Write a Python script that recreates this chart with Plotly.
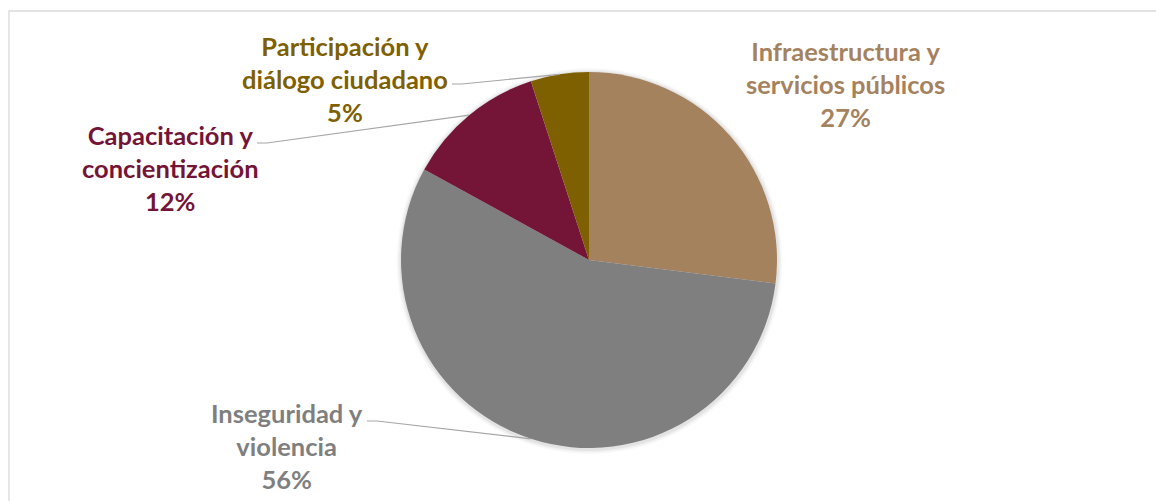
import math
import plotly.graph_objects as go

labels = ["Infraestructura y<br>servicios públicos", "Inseguridad y<br>violencia",
          "Capacitación y<br>concientización", "Participación y<br>diálogo ciudadano"]
values = [27, 56, 12, 5]
colors = ["#A5825E", "#7F7F7F", "#741538", "#7F6000"]

W, H = 1156, 501
cx, cy, r = 589, 260, 188  # pie centre/radius in pixels


def dom(cxp, cyp, rp):
    return dict(x=[(cxp - rp) / W, (cxp + rp) / W], y=[1 - (cyp + rp) / H, 1 - (cyp - rp) / H])


fig = go.Figure()
# soft shadow behind the pie
for k, a in [(5, 0.025), (3.5, 0.035), (2, 0.05)]:
    fig.add_trace(go.Pie(values=[1], marker=dict(colors=[f"rgba(0,0,0,{a})"], line=dict(width=0)),
                         textinfo="none", hoverinfo="skip", showlegend=False, sort=False,
                         domain=dom(cx + 0.5, cy + 1, r + k)))

fig.add_trace(go.Pie(
    labels=labels, values=values, sort=False, direction="clockwise", rotation=0,
    marker=dict(colors=colors, line=dict(width=0)),
    textinfo="none", hoverinfo="label+percent", showlegend=False,
    domain=dom(cx, cy, r),
))

# label block centres (pixels) and leader-line start (pixels, or None)
label_pos = [(845, 84), (287, 446), (170, 168), (345, 79)]
leader_start = [None, (367, 421), (257, 143), (452, 84)]

total = sum(values)
cum = 0
shapes = []
annotations = []
for lab, v, col, (lx, ly), ls in zip(labels, values, colors, label_pos, leader_start):
    mid = (cum + v / 2) / total * 2 * math.pi
    cum += v
    px = cx + r * math.sin(mid)
    py = cy - r * math.cos(mid)
    pct = round(v / total * 100)
    annotations.append(dict(
        x=lx / W, y=1 - ly / H, xref="paper", yref="paper", xanchor="center", yanchor="middle",
        text=f"<b>{lab}<br>{pct}%</b>", showarrow=False,
        font=dict(family="Lato", size=25.5, color=col), align="center"))
    if ls is not None:
        sx, sy = ls
        path = (f"M {sx / W} {1 - sy / H} L {(sx + 10) / W} {1 - sy / H} "
                f"L {px / W} {1 - py / H}")
        shapes.append(dict(type="path", xref="paper", yref="paper", path=path,
                           line=dict(color="#A6A6A6", width=1.2)))

# chart-area border
shapes.append(dict(type="rect", xref="paper", yref="paper",
                   x0=9 / W, x1=1.02, y0=-0.02, y1=1 - 11 / H,
                   line=dict(color="#D9D9D9", width=1.3), layer="below"))

fig.update_layout(width=W, height=H, margin=dict(l=0, r=0, t=0, b=0),
                  paper_bgcolor="white", plot_bgcolor="white",
                  shapes=shapes, annotations=annotations)
fig.write_html("out.html", config={"displayModeBar": False},
               post_script="document.body.style.margin='0px';")
